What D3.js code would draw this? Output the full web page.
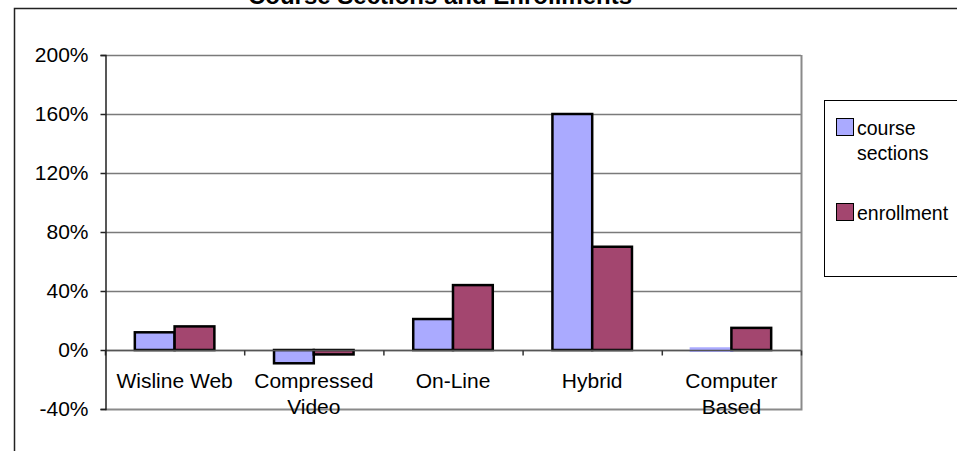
<!DOCTYPE html>
<html><head><meta charset="utf-8">
<script src="https://cdn.jsdelivr.net/npm/d3@7"></script>
<style>body{margin:0;background:#fff}svg{display:block;font-family:"Liberation Sans",Arial,sans-serif}</style>
</head><body><svg id="c" width="957" height="451"></svg>
<script>
const title = "Course Sections and Enrollments";
const categories = [["Wisline Web"], ["Compressed", "Video"], ["On-Line"], ["Hybrid"], ["Computer", "Based"]];
const seriesNames = ["course", "enrollment"];
const seriesLegend = [["course", "sections"], ["enrollment"]];
const courseSections = [12, -9, 21, 160, 0.5];
const enrollment = [16, -3, 44, 70, 15];
const yTicks = [-40, 0, 40, 80, 120, 160, 200];
const colors = ["#AAAAFF", "#A3466F"];

const svg = d3.select("#c");
const L = 105, R = 801, T = 55, B = 409;
svg.append("rect").attr("x", 0).attr("y", 0).attr("width", 957).attr("height", 451).attr("fill", "#fff");
// outer chart frame
svg.append("path").attr("d", "M14.5,451 V8.5 H957").attr("fill", "none").attr("stroke", "#222").attr("stroke-width", 1.5);
svg.append("text").attr("x", 440).attr("y", 4).attr("text-anchor", "middle")
  .attr("font-weight", "bold").attr("font-size", 24).attr("fill", "#000").text(title);

const y = d3.scaleLinear().domain([-40, 200]).range([B, T]);
const x0 = d3.scaleBand().domain(d3.range(categories.length)).range([L, R]).paddingInner(0).paddingOuter(0);
const bw = x0.bandwidth() / 3.5;

// gridlines
svg.append("g").selectAll("line").data(yTicks.filter(t => t !== -40)).join("line")
  .attr("x1", L).attr("x2", R).attr("y1", d => Math.round(y(d)) + 0.5).attr("y2", d => Math.round(y(d)) + 0.5)
  .attr("stroke", "#7a7a7a").attr("stroke-width", 1.5);
// plot border right & bottom
svg.append("path").attr("d", `M${L},${B + 0.5} H${R + 0.5} V${T}`).attr("fill", "none").attr("stroke", "#8a8a8a").attr("stroke-width", 2);

// bars
const series = [courseSections, enrollment];
series.forEach((vals, si) => {
  svg.append("g").selectAll("rect").data(vals).join("rect")
    .attr("x", (d, i) => x0(i) + x0.bandwidth() / 2 - bw + si * bw)
    .attr("width", bw)
    .attr("y", d => y(Math.max(0, d)))
    .attr("height", d => Math.abs(y(d) - y(0)))
    .attr("fill", colors[si])
    .attr("stroke", d => Math.abs(y(d) - y(0)) < 2 ? colors[si] : "#000")
    .attr("stroke-width", d => Math.abs(y(d) - y(0)) < 2 ? 4 : 2.5);
});

// category axis at zero
const zy = Math.round(y(0)) + 0.5;
svg.append("line").attr("x1", L).attr("x2", R).attr("y1", zy).attr("y2", zy).attr("stroke", "#555").attr("stroke-width", 1.5);
svg.append("g").selectAll("line").data(d3.range(categories.length + 1)).join("line")
  .attr("x1", i => (i < categories.length ? x0(i) : R) + 0.5).attr("x2", i => (i < categories.length ? x0(i) : R) + 0.5)
  .attr("y1", zy).attr("y2", zy + 5).attr("stroke", "#333").attr("stroke-width", 1.5);
const cl = svg.append("g").selectAll("text").data(categories).join("text")
  .attr("text-anchor", "middle").attr("font-size", 21).attr("fill", "#000");
cl.each(function(lines, i) {
  d3.select(this).selectAll("tspan").data(lines).join("tspan")
    .attr("x", x0(i) + x0.bandwidth() / 2).attr("y", (d, j) => 388 + j * 26).text(d => d);
});

// value axis
const ax = svg.append("g").attr("transform", `translate(${L + 0.5},0)`)
  .call(d3.axisLeft(y).tickValues(yTicks).tickSize(5).tickPadding(12).tickFormat(d => d + "%"));
ax.select(".domain").attr("stroke", "#222").attr("stroke-width", 1.5);
ax.selectAll(".tick line").attr("stroke", "#222").attr("stroke-width", 1.5);
ax.selectAll(".tick text").attr("font-size", 21).attr("fill", "#000").attr("font-family", "Liberation Sans, Arial, sans-serif");

// legend
svg.append("rect").attr("x", 824.5).attr("y", 100.5).attr("width", 200).attr("height", 176).attr("fill", "#fff").attr("stroke", "#000").attr("stroke-width", 1);
const legY = [118, 203];
seriesLegend.forEach((lines, si) => {
  svg.append("rect").attr("x", 836.5).attr("y", legY[si] + 0.5).attr("width", 17).attr("height", 17)
    .attr("fill", colors[si]).attr("stroke", "#000").attr("stroke-width", 1);
  const t = svg.append("text").attr("font-size", 19.5).attr("fill", "#000");
  t.selectAll("tspan").data(lines).join("tspan").attr("x", 857).attr("y", (d, j) => legY[si] + 17 + j * 25).text(d => d);
});
</script></body></html>
